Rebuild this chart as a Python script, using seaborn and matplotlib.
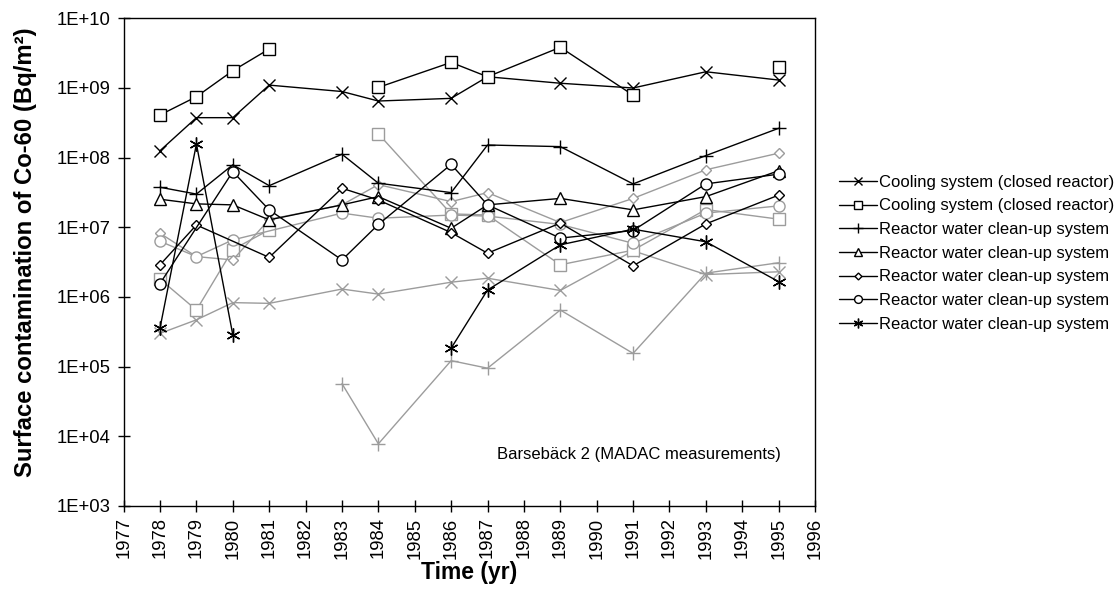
import numpy as np
import pandas as pd
import seaborn as sns
import matplotlib.pyplot as plt
from matplotlib.ticker import FixedLocator, FuncFormatter

nan = np.nan

# black series (legend entries)
cool_x_yr = [1978, 1979, 1980, 1981, 1983, 1984, 1986, 1987, 1989, 1991, 1993, 1995]
cool_x = [1.26e8, 3.75e8, 3.75e8, 1.1e9, 8.9e8, 6.5e8, 7.1e8, 1.45e9, 1.17e9, 1.0e9, 1.71e9, 1.3e9]

cool_sq_yr = [1978, 1979, 1980, 1981, 1983, 1984, 1986, 1987, 1989, 1991, 1993, 1995]
cool_sq = [4.1e8, 7.5e8, 1.77e9, 3.63e9, nan, 1.02e9, 2.33e9, 1.45e9, 3.84e9, 7.9e8, nan, 2.02e9]

rw_plus_yr = [1978, 1979, 1980, 1981, 1983, 1984, 1986, 1987, 1989, 1991, 1993, 1995]
rw_plus = [3.76e7, 3.0e7, 7.9e7, 3.96e7, 1.12e8, 4.3e7, 3.15e7, 1.52e8, 1.44e8, 4.2e7, 1.07e8, 2.64e8]

rw_tri_yr = [1978, 1979, 1980, 1981, 1983, 1984, 1986, 1987, 1989, 1991, 1993, 1995]
rw_tri = [2.53e7, 2.17e7, 2.1e7, 1.28e7, 2.1e7, 2.76e7, 9.7e6, 2.1e7, 2.6e7, 1.78e7, 2.76e7, 6.5e7]

rw_dia_yr = [1978, 1979, 1981, 1983, 1984, 1986, 1987, 1989, 1991, 1993, 1995]
rw_dia = [2.9e6, 1.08e7, 3.7e6, 3.64e7, 2.47e7, 8.4e6, 4.25e6, 1.15e7, 2.8e6, 1.12e7, 2.9e7]

rw_circ_yr = [1978, 1980, 1981, 1983, 1984, 1986, 1987, 1989, 1991, 1993, 1995]
rw_circ = [1.56e6, 6.3e7, 1.78e7, 3.4e6, 1.1e7, 8.0e7, 2.1e7, 7.0e6, 9.0e6, 4.2e7, 5.8e7]

rw_star_yr = [1978, 1979, 1980, 1983, 1986, 1987, 1989, 1991, 1993, 1995]
rw_star = [3.6e5, 1.57e8, 2.86e5, nan, 1.84e5, 1.26e6, 5.6e6, 9.4e6, 6.2e6, 1.66e6]

# grey series (no legend entries)
g_x_yr = [1978, 1979, 1980, 1981, 1983, 1984, 1986, 1987, 1989, 1991, 1993, 1995]
g_x = [3.0e5, 4.7e5, 8.3e5, 8.1e5, 1.3e6, 1.1e6, 1.63e6, 1.86e6, 1.24e6, 4.6e6, 2.1e6, 2.3e6]

g_sq_yr = [1978, 1979, 1980, 1981, 1983, 1984, 1986, 1987, 1989, 1991, 1993, 1995]
g_sq = [1.8e6, 6.5e5, 4.8e6, 9.2e6, nan, 2.2e8, 1.56e7, 1.5e7, 2.9e6, 4.7e6, 1.8e7, 1.31e7]

g_plus_yr = [1983, 1984, 1986, 1987, 1989, 1991, 1993, 1995]
g_plus = [5.7e4, 7.8e3, 1.22e5, 9.5e4, 6.5e5, 1.55e5, 2.2e6, 3.1e6]

g_dia_yr = [1978, 1979, 1980, 1981, 1983, 1984, 1986, 1987, 1989, 1991, 1993, 1995]
g_dia = [8.2e6, 3.8e6, 3.4e6, 1.3e7, 2.1e7, 4.1e7, 2.34e7, 3.15e7, 1.17e7, 2.6e7, 6.7e7, 1.16e8]

g_circ_yr = [1978, 1979, 1980, 1983, 1984, 1986, 1987, 1989, 1991, 1993, 1995]
g_circ = [6.3e6, 3.8e6, 6.6e6, 1.6e7, 1.35e7, 1.5e7, 1.45e7, 1.1e7, 5.9e6, 1.6e7, 2.03e7]

labels = ["Cooling system (closed reactor)", "Cooling system (closed reactor)",
          "Reactor water clean-up system", "Reactor water clean-up system",
          "Reactor water clean-up system", "Reactor water clean-up system",
          "Reactor water clean-up system"]

star = (6, 2, 0)
GREY = "#9c9c9c"

sns.set_style("ticks")
plt.rcParams["font.family"] = ["Liberation Sans", "DejaVu Sans"]
plt.rcParams["text.color"] = "black"
plt.rcParams["axes.labelcolor"] = "black"

fig = plt.figure(figsize=(11.2, 5.99), dpi=100)
ax = fig.add_axes([0.1104, 0.1553, 0.6173, 0.8141])


def draw(yrs, vals, marker, ms, color, label=None):
    df = pd.DataFrame({"yr": yrs, "v": vals})
    seg = df["v"].isna().cumsum()
    first = True
    for _, part in df.groupby(seg):
        part = part.dropna()
        if part.empty:
            continue
        sns.lineplot(data=part, x="yr", y="v", ax=ax, color=color, lw=1,
                     marker=marker, markersize=ms, markerfacecolor="white",
                     markeredgecolor=color, markeredgewidth=1,
                     estimator=None, sort=False,
                     label=label if first else None)
        first = False


# grey first, black on top
draw(g_x_yr, g_x, "x", 8, GREY)
draw(g_sq_yr, g_sq, "s", 8, GREY)
draw(g_plus_yr, g_plus, "+", 10, GREY)
draw(g_dia_yr, g_dia, "D", 5, GREY)
draw(g_circ_yr, g_circ, "o", 8, GREY)

draw(cool_x_yr, cool_x, "x", 8, "black", labels[0])
draw(cool_sq_yr, cool_sq, "s", 8, "black", labels[1])
draw(rw_plus_yr, rw_plus, "+", 10, "black", labels[2])
draw(rw_tri_yr, rw_tri, "^", 8, "black", labels[3])
draw(rw_dia_yr, rw_dia, "D", 5, "black", labels[4])
draw(rw_circ_yr, rw_circ, "o", 8, "black", labels[5])
draw(rw_star_yr, rw_star, star, 10, "black", labels[6])

ax.set_yscale("log")
ax.set_ylim(1e3, 1e10)
ax.set_xlim(1977, 1996)
ax.xaxis.set_major_locator(FixedLocator(list(range(1977, 1997))))
ax.yaxis.set_major_locator(FixedLocator([10.0 ** k for k in range(3, 11)]))
ax.yaxis.set_minor_locator(FixedLocator([]))
ax.yaxis.set_major_formatter(FuncFormatter(lambda v, p: "1E+%02d" % round(np.log10(v))))
ax.tick_params(axis="both", direction="inout", length=8.5, width=1, color="black",
               labelsize=13.3, labelcolor="black")
ax.tick_params(axis="x", labelrotation=90, pad=4)
ax.tick_params(axis="y", pad=5)
for s in ax.spines.values():
    s.set_color("black")
    s.set_linewidth(1)

ax.set_xlabel("Time (yr)", fontsize=16.5, fontweight="bold", labelpad=1.5)
ax.set_ylabel("Surface contamination of Co-60 (Bq/m²)", fontsize=17.2, fontweight="bold")
ax.yaxis.set_label_coords(-0.1254, 0.52)

ax.text(0.951, 0.105, "Barsebäck 2 (MADAC measurements)", transform=ax.transAxes,
        ha="right", va="center", fontsize=12)

leg = ax.legend(loc="upper left", bbox_to_anchor=(1.025, 0.693), frameon=False,
                fontsize=12, handlelength=2.3, handletextpad=0.1,
                labelspacing=0.52, markerscale=0.7, borderaxespad=0)

fig.savefig("out.png", dpi=100)
